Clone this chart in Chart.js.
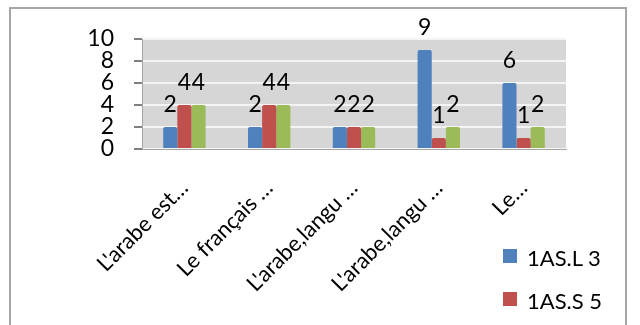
<!DOCTYPE html>
<html>
<head>
<meta charset="utf-8">
<script src="https://cdn.jsdelivr.net/npm/chart.js@4"></script>
<style>
  html, body { margin: 0; padding: 0; background: #fff; overflow: hidden; }
  #wrap { position: relative; width: 640px; height: 325px; overflow: hidden; }
  #frame { position: absolute; left: 9px; top: 7px; width: 618px; height: 340px; border: 2px solid #a6a6a6; box-sizing: border-box; pointer-events: none; }
  #legend { position: absolute; left: 503px; top: 244px; font-family: Lato, "Liberation Sans", sans-serif; font-size: 22px; color: #000; }
  #legend .item { height: 43px; display: flex; align-items: flex-start; }
  #legend .sw { width: 14px; height: 14px; margin-top: 5px; margin-right: 10px; }
</style>
</head>
<body>
<div id="wrap">
  <canvas id="chart" width="640" height="325"></canvas>
  <div id="frame"></div>
  <div id="legend"></div>
</div>
<script>
// libellés tronqués tels qu'affichés
const categories = ["L'arabe est…", "Le français …", "L'arabe,langu …", "L'arabe,langu …", "Le…"];
const seriesNames = ['1AS.L 3', '1AS.S 5', 'Série 3'];
const seriesL3 = [2, 2, 2, 9, 6];
const seriesS5 = [4, 4, 2, 1, 1];
const series3 = [4, 4, 2, 2, 2];
const yTicks = [0, 2, 4, 6, 8, 10];

const colors = ['#4f81bd', '#c0504d', '#9bbb59'];
const fontFamily = 'Lato, "Liberation Sans", sans-serif';

const wallPlugin = {
    id: 'wall',
    beforeDraw(chart) {
        const { ctx, chartArea } = chart;
        ctx.save();
        ctx.fillStyle = '#d6d6d6';
        ctx.fillRect(chartArea.left, chartArea.top, chartArea.right - chartArea.left, chartArea.bottom - chartArea.top);
        ctx.restore();
    }
};

const valueLabels = {
    id: 'valueLabels',
    afterDatasetsDraw(chart) {
        const ctx = chart.ctx;
        ctx.save();
        ctx.font = '23px ' + fontFamily;
        ctx.fillStyle = '#000';
        ctx.textAlign = 'center';
        ctx.textBaseline = 'bottom';
        chart.data.datasets.forEach((ds, i) => {
            const meta = chart.getDatasetMeta(i);
            meta.data.forEach((bar, j) => {
                ctx.fillText(ds.data[j], bar.x, bar.y - 11);
            });
        });
        ctx.restore();
    }
};

const ctx = document.getElementById('chart').getContext('2d');
const chart = new Chart(ctx, {
    type: 'bar',
    data: {
        labels: categories,
        datasets: [
            { label: seriesNames[0], data: seriesL3, backgroundColor: colors[0] },
            { label: seriesNames[1], data: seriesS5, backgroundColor: colors[1] },
            { label: seriesNames[2], data: series3, backgroundColor: colors[2] }
        ]
    },
    options: {
        responsive: false,
        animation: false,
        events: [],
        layout: { padding: { left: 0, right: 74, top: 39, bottom: 0 } },
        datasets: {
            bar: { categoryPercentage: 0.5, barPercentage: 1, borderRadius: 2 }
        },
        scales: {
            x: {
                grid: { display: false, drawTicks: false },
                border: { display: true, color: '#a6a6a6' },
                ticks: {
                    font: { family: fontFamily, size: 22 },
                    color: '#000',
                    minRotation: 45,
                    maxRotation: 45,
                    padding: 26,
                    autoSkip: false
                },
                afterFit(scale) { scale.height = 176; }
            },
            y: {
                min: 0,
                max: 10,
                afterBuildTicks(scale) { scale.ticks = yTicks.map(v => ({ value: v })); },
                grid: { color: '#f4f4f4', lineWidth: 2, tickColor: '#808080', tickLength: 8 },
                border: { display: true, color: '#a6a6a6' },
                ticks: {
                    font: { family: fontFamily, size: 23 },
                    color: '#000',
                    padding: 20,
                    autoSkip: false,
                    stepSize: 2
                },
                afterFit(scale) { scale.width = 142; }
            }
        },
        plugins: {
            legend: { display: false },
            tooltip: { enabled: false }
        }
    },
    plugins: [wallPlugin, valueLabels]
});

// légende HTML (la 3e entrée sort du cadre comme dans l'original)
const legendEl = document.getElementById('legend');
chart.data.datasets.forEach(ds => {
    const item = document.createElement('div');
    item.className = 'item';
    item.innerHTML = `<span class="sw" style="background:${ds.backgroundColor}"></span><span>${ds.label}</span>`;
    legendEl.appendChild(item);
});
</script>
</body>
</html>
